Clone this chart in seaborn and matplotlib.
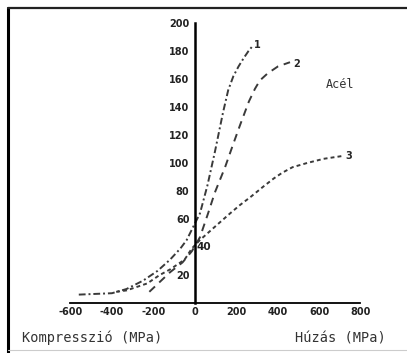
import numpy as np
import pandas as pd
import seaborn as sns
import matplotlib.pyplot as plt
from matplotlib.lines import Line2D

sns.set_theme(style="white")
plt.rcParams["font.family"] = ["DejaVu Sans"]
plt.rcParams["axes.unicode_minus"] = False

# curve 1 (dash-dot)
x1 = [-560, -480, -400, -330, -250, -180, -120, -70, -40, -10, 24, 60, 96, 135, 160, 185, 210, 235, 258, 280]
y1 = [6, 6.5, 7, 10, 16, 23, 31, 39, 45, 54, 64, 84, 108, 136, 152, 162, 169, 175, 180, 184]
# curve 2 (dashed)
x2 = [-220, -170, -120, -60, -15, 24, 63, 96, 145, 183, 217, 260, 289, 313, 350, 400, 458]
y2 = [8, 15, 22, 29, 37, 47, 64, 79, 97, 113, 127, 144, 153, 159, 164, 169, 172]
# curve 3 (dotted)
x3 = [-380, -330, -230, -170, -120, -50, -15, 24, 100, 169, 217, 270, 328, 380, 420, 470, 540, 620, 710]
y3 = [8, 9, 14, 20, 24, 31, 39, 45, 55, 64, 70, 76, 83, 89, 93, 97, 100, 103, 105]

xticks = [-600, -400, -200, 0, 200, 400, 600, 800]
yticks = [20, 40, 60, 80, 100, 120, 140, 160, 180, 200]

df = pd.concat([
    pd.DataFrame({"stress": x1, "value": y1, "curve": "1"}),
    pd.DataFrame({"stress": x2, "value": y2, "curve": "2"}),
    pd.DataFrame({"stress": x3, "value": y3, "curve": "3"}),
], ignore_index=True)

fig = plt.figure(figsize=(4.07, 3.53), dpi=100)
ax = fig.add_axes([0.1528, 0.1297, 0.7494, 0.817])

sns.lineplot(data=df, x="stress", y="value", hue="curve", style="curve",
             palette=["#3a3a3a", "#3a3a3a", "#3a3a3a"],
             dashes={"1": (3.5, 1.5, 1, 1.5), "2": (4, 3), "3": (2, 1.6)},
             estimator=None, sort=False, legend=False, linewidth=1.4, ax=ax)

ax.set_xlim(-640, 830)
ax.set_ylim(-3, 203)
ax.set_xlabel("")
ax.set_ylabel("")

for s in ["top", "right"]:
    ax.spines[s].set_visible(False)
ax.spines["left"].set_position(("data", 0))
ax.spines["bottom"].set_position(("data", 0))
ax.spines["left"].set_bounds(0, 200)
ax.spines["bottom"].set_bounds(-600, 795)
ax.spines["left"].set_linewidth(1.8)
ax.spines["bottom"].set_linewidth(1.3)
ax.spines["left"].set_color("black")
ax.spines["bottom"].set_color("black")

ax.set_xticks(xticks)
ax.set_xticklabels([str(v) for v in xticks])
ax.set_yticks(yticks)
ax.set_yticklabels(["" if v == 40 else str(v) for v in yticks])
ax.tick_params(axis="x", direction="in", length=3, width=1, pad=3, labelsize=7, colors="#222222")
ax.tick_params(axis="y", direction="out", length=3, width=1, pad=1, labelsize=7, colors="#222222")
for lab in ax.get_xticklabels() + ax.get_yticklabels():
    lab.set_fontweight("bold")
ax.text(8, 40, "40", fontsize=7.5, fontweight="bold", va="center", ha="left", color="#222222")

ax.text(299, 184, "1", fontsize=7, fontweight="bold", va="center", ha="center")
ax.text(492, 171, "2", fontsize=7, fontweight="bold", va="center", ha="center")
ax.text(742, 105, "3", fontsize=7, fontweight="bold", va="center", ha="center")
ax.text(0.835, 0.76, "Acél", transform=fig.transFigure, family="DejaVu Sans Mono",
        fontsize=8.5, va="center", ha="center", color="#333333")

fig.text(22 / 407, 1 - 338 / 353, "Kompresszió (MPa)", family="DejaVu Sans Mono",
         fontsize=9.8, va="center", ha="left", color="#333333")
fig.text(295 / 407, 1 - 338 / 353, "Húzás (MPa)", family="DejaVu Sans Mono",
         fontsize=9.8, va="center", ha="left", color="#333333")

# scanned page frame
fig.add_artist(Line2D([8 / 407, 8 / 407], [0, 1 - 8 / 353], color="black", linewidth=2.2))
fig.add_artist(Line2D([8 / 407, 1], [1 - 8 / 353, 1 - 8 / 353], color="#222222", linewidth=1.6))
fig.add_artist(Line2D([8 / 407, 1], [3 / 353, 3 / 353], color="#cccccc", linewidth=0.8))

fig.savefig("out.png", dpi=100)
